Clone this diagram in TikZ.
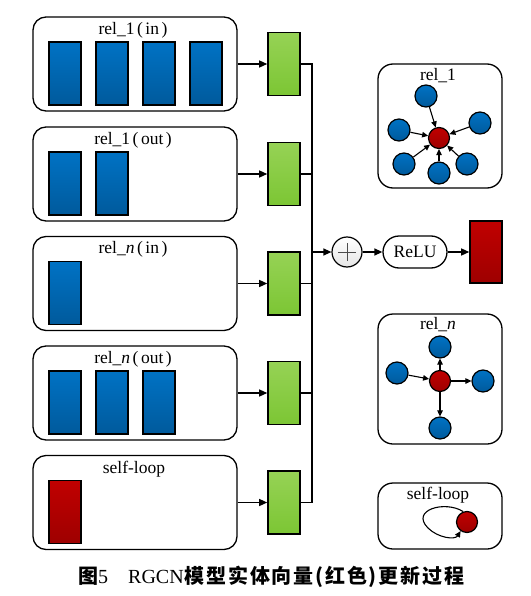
\documentclass[tikz,border=0pt]{standalone}
\usepackage{fontspec}
\setmainfont{Liberation Serif}
\newfontfamily\cjk{Noto Sans CJK SC}
\usetikzlibrary{arrows.meta,shapes.misc}
\definecolor{bluetop}{HTML}{0072C4}
\definecolor{bluebot}{HTML}{005A9C}
\definecolor{greentop}{HTML}{96D255}
\definecolor{greenbot}{HTML}{7CC634}
\definecolor{redtop}{HTML}{C00000}
\definecolor{redbot}{HTML}{9E0000}
\tikzset{
  lbox/.style={draw, line width=1.3pt, rounded corners=13pt, minimum width=204pt, minimum height=94pt, inner sep=0pt},
  pbox/.style={draw, line width=1.3pt, rounded corners=15pt, minimum width=124pt, inner sep=0pt},
  bar/.style={draw, line width=1.6pt, minimum width=32pt, minimum height=63pt, inner sep=0pt},
  bluebar/.style={bar, top color=bluetop, bottom color=bluebot},
  redbar/.style={bar, top color=redtop, bottom color=redbot},
  greenbox/.style={bar, top color=greentop, bottom color=greenbot},
  bnode/.style={circle, draw, line width=1.2pt, minimum size=22pt, inner sep=0pt, top color=bluetop, bottom color=bluebot},
  rnode/.style={circle, draw, line width=1.2pt, minimum size=21pt, inner sep=0pt, top color=redtop, bottom color=redbot},
  arr/.style={line width=1.3pt, -{Triangle[length=8pt,width=7pt]}},
  sarr/.style={line width=1.1pt, -{Triangle[length=6pt,width=5.5pt]}},
  lab/.style={font=\fontsize{17.5pt}{19pt}\selectfont, inner sep=0pt},
}
\newcommand{\lp}{\hspace{2.5pt}(\hspace{2.5pt}}
\newcommand{\rp}{\hspace{2.5pt})}
\begin{document}
\begin{tikzpicture}[x=1pt,y=-1pt]
\useasboundingbox (0,0) rectangle (530,596);
% left boxes
\foreach \i/\y in {1/64,2/174,3/283.5,4/393,5/502.5}{
  \node[lbox] (b\i) at (135,\y) {};
  \node[greenbox] (g\i) at (284,\y) {};
  \draw[arr] (b\i.east) -- (g\i.west);
}
\node[lab] (t1) at (133,30) {rel\_1\lp in\rp};
\node[lab] (t2) at (133,140) {rel\_1\lp out\rp};
\node[lab] (t3) at (133,249.5) {rel\_\textit{n}\lp in\rp};
\node[lab] (t4) at (133,359) {rel\_\textit{n}\lp out\rp};
\node[lab] (t5) at (134,469) {self-loop};
% bars
\foreach \x [count=\k] in {65,112,159,206}{ \node[bluebar] (a1\k) at (\x,73.5) {}; }
\foreach \x [count=\k] in {65,112}{ \node[bluebar] (a2\k) at (\x,183.5) {}; }
\node[bluebar] (a31) at (65,293) {};
\foreach \x [count=\k] in {65,112,159}{ \node[bluebar] (a4\k) at (\x,402.5) {}; }
\node[redbar] (a51) at (65,512) {};
% trunk
\coordinate (trunk) at (312,0);
\draw[line width=1.8pt] (g1.east) -- (g1.east -| trunk) -- (g5.east -| trunk) -- (g5.east);
\foreach \i in {2,3,4}{ \draw[line width=1.6pt] (g\i.east) -- (g\i.east -| trunk); }
% plus, relu, out
\node[circle, draw, line width=1.2pt, minimum size=30pt, inner sep=0pt, top color=white, bottom color=black!10] (plus) at (347,252) {};
\draw[line width=0.9pt, black!70] ([xshift=-9pt]plus.center) -- ([xshift=9pt]plus.center);
\draw[line width=0.9pt, black!70] ([yshift=-9pt]plus.center) -- ([yshift=9pt]plus.center);
\draw[arr] (plus.west -| trunk) -- (plus.west);
\node[rounded rectangle, draw, line width=1.3pt, minimum width=64pt, minimum height=32pt, inner sep=1pt, lab] (relu) at (415,252) {ReLU};
\draw[arr] (plus.east) -- (relu.west);
\node[redbar, minimum height=62pt] (out) at (486,252) {};
\draw[arr] (relu.east) -- (out.west);
% rel_1 panel
\node[pbox, minimum height=124pt] (p1) at (440,126) {};
\node[lab] (p1t) at (438,76) {rel\_1};
\node[rnode] (c1) at (439,138) {};
\node[bnode] (n11) at (426,96) {};
\node[bnode] (n12) at (399,130) {};
\node[bnode] (n13) at (480,123) {};
\node[bnode] (n14) at (404,164) {};
\node[bnode] (n15) at (439,173) {};
\node[bnode] (n16) at (467,164) {};
\foreach \k in {1,...,6}{ \draw[sarr] (n1\k) -- (c1); }
% rel_n panel
\node[pbox, minimum height=130pt] (p2) at (440,379) {};
\node[lab] (p2t) at (438,325) {rel\_\textit{n}};
\node[rnode] (c2) at (440,381) {};
\node[bnode] (n21) at (440,347) {};
\node[bnode] (n22) at (397,373) {};
\node[bnode] (n23) at (483,381) {};
\node[bnode] (n24) at (440,428) {};
\draw[sarr] (n22) -- (c2);
\draw[sarr] (c2) -- (n21);
\draw[sarr] (c2) -- (n23);
\draw[sarr] (c2) -- (n24);
% self-loop panel
\node[pbox, minimum height=66pt] (p3) at (440,516) {};
\node[lab] (p3t) at (438,495) {self-loop};
\node[rnode] (c3) at (467,522) {};
\draw[sarr] (c3.110) .. controls (445,500) and (410,510) .. (428,528) .. controls (438,538) and (455,540) .. (c3.235);
% caption
\node[inner sep=0pt, font=\fontsize{20pt}{22pt}\selectfont, anchor=west] (cap) at (78,577) {{\cjk\bfseries 图}5\hspace{20pt}RGCN\hspace{1pt}{\cjk\bfseries\addfontfeature{LetterSpace=9} 模型实体向量(红色)更新过程}};
\end{tikzpicture}
\end{document}
